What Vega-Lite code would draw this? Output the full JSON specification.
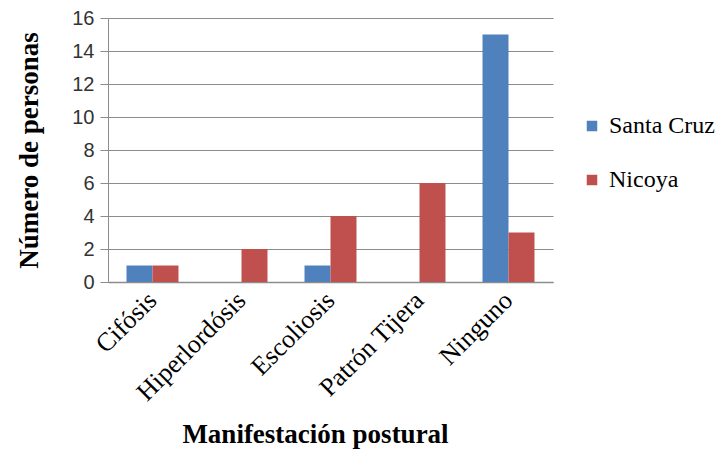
{
  "$schema": "https://vega.github.io/schema/vega-lite/v6.json",
  "width": 445,
  "height": 264,
  "autosize": "none",
  "padding": {"left": 108, "top": 18, "right": 165, "bottom": 170},
  "background": "white",
  "config": {
    "view": {"stroke": null}
  },
  "data": {
    "values": [
      {"cat": "Cifósis", "loc": "Santa Cruz", "n": 1},
      {"cat": "Cifósis", "loc": "Nicoya", "n": 1},
      {"cat": "Hiperlordósis", "loc": "Santa Cruz", "n": 0},
      {"cat": "Hiperlordósis", "loc": "Nicoya", "n": 2},
      {"cat": "Escoliosis", "loc": "Santa Cruz", "n": 1},
      {"cat": "Escoliosis", "loc": "Nicoya", "n": 4},
      {"cat": "Patrón Tijera", "loc": "Santa Cruz", "n": 0},
      {"cat": "Patrón Tijera", "loc": "Nicoya", "n": 6},
      {"cat": "Ninguno", "loc": "Santa Cruz", "n": 15},
      {"cat": "Ninguno", "loc": "Nicoya", "n": 3}
    ]
  },
  "mark": {"type": "bar"},
  "encoding": {
    "x": {
      "field": "cat",
      "type": "nominal",
      "sort": ["Cifósis", "Hiperlordósis", "Escoliosis", "Patrón Tijera", "Ninguno"],
      "scale": {"paddingInner": 0.416, "paddingOuter": 0.208},
      "axis": {
        "title": "Manifestación postural",
        "titleFont": "Liberation Serif",
        "titleFontSize": 27,
        "titleFontWeight": "bold",
        "titleColor": "black",
        "titlePadding": 16,
        "titleX": 207,
        "labelAngle": -45,
        "labelAlign": "right",
        "labelBaseline": "middle",
        "labelFont": "Liberation Serif",
        "labelFontSize": 26,
        "labelColor": "black",
        "labelPadding": 14,
        "ticks": false,
        "domainColor": "#8c8c8c",
        "domainWidth": 1.5
      }
    },
    "xOffset": {"field": "loc", "type": "nominal", "sort": ["Santa Cruz", "Nicoya"], "scale": {"paddingInner": 0, "paddingOuter": 0}},
    "y": {
      "field": "n",
      "type": "quantitative",
      "scale": {"domain": [0, 16], "nice": false},
      "axis": {
        "title": "Número de personas",
        "titleFont": "Liberation Serif",
        "titleFontSize": 27,
        "titleFontWeight": "bold",
        "titleColor": "black",
        "titlePadding": 28,
        "values": [0, 2, 4, 6, 8, 10, 12, 14, 16],
        "labelFont": "Liberation Sans",
        "labelFontSize": 20,
        "labelColor": "#333333",
        "labelPadding": 6,
        "tickSize": 8,
        "tickColor": "#8c8c8c",
        "domainColor": "#8c8c8c",
        "gridColor": "#8c8c8c",
        "grid": true,
        "gridWidth": 1.2
      }
    },
    "color": {
      "field": "loc",
      "type": "nominal",
      "sort": ["Santa Cruz", "Nicoya"],
      "scale": {"domain": ["Santa Cruz", "Nicoya"], "range": ["#4F81BD", "#C0504D"]},
      "legend": {
        "title": null,
        "orient": "none",
        "legendX": 472,
        "legendY": 96,
        "symbolType": "square",
        "symbolSize": 110,
        "symbolStrokeWidth": 0,
        "labelFont": "Liberation Serif",
        "labelFontSize": 24,
        "labelColor": "black",
        "labelLimit": 200,
        "rowPadding": 30,
        "labelOffset": 5
      }
    }
  }
}
